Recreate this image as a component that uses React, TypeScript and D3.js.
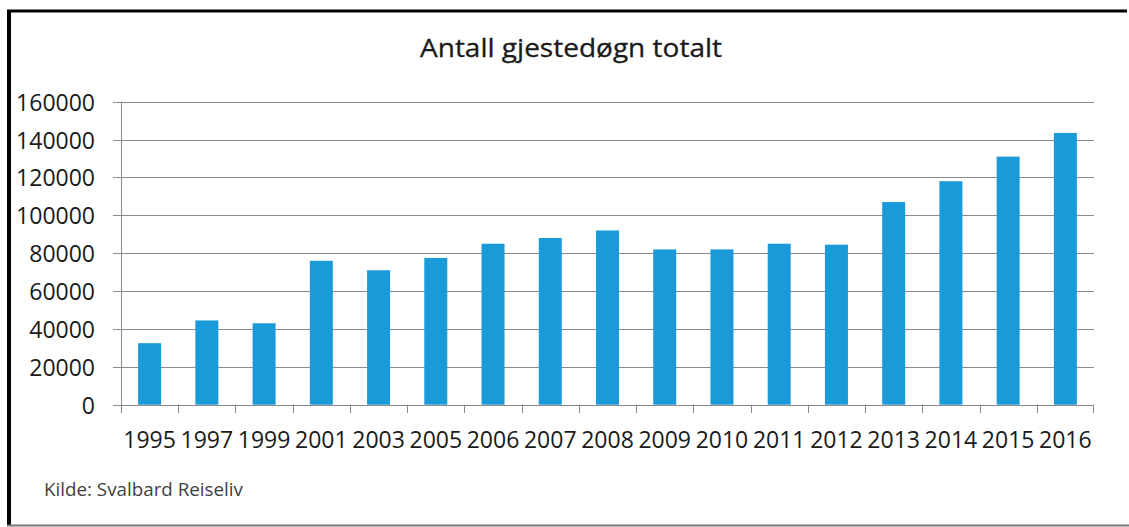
import React from "react";
import * as d3 from "d3";

const years = ["1995","1997","1999","2001","2003","2005","2006","2007","2008","2009","2010","2011","2012","2013","2014","2015","2016"];
const guestNights = [32500,44500,43000,76000,71000,77500,85000,88000,92000,82000,82000,85000,84500,107000,118000,131000,143500];
const yTicks = [0,20000,40000,60000,80000,100000,120000,140000,160000];
const title = "Antall gjestedøgn totalt";
const source = "Kilde: Svalbard Reiseliv";

export default function App() {
  const W = 1129, H = 527;
  const left = 121, right = 1094, top = 101.7, bottom = 404.7;
  const xb = d3.scaleBand<string>().domain(years).range([left, right]);
  const y = d3.scaleLinear().domain([0, 160000]).range([bottom, top]);
  const font = "'Open Sans', sans-serif";
  const grid = "#8a8a8a";
  return (
    <svg width={W} height={H} style={{ position: "absolute", left: 0, top: 0, background: "#fff" }} fontFamily={font}>
      <rect x={0} y={0} width={W} height={H} fill="#fff" />
      {/* frame */}
      <line x1={7} x2={1127} y1={11} y2={11} stroke="#000" strokeWidth={3} />
      <line x1={9} x2={9} y1={10} y2={526} stroke="#000" strokeWidth={4} />
      <line x1={7} x2={W} y1={525.5} y2={525.5} stroke="#777" strokeWidth={2} />
      <text x={571} y={57} textAnchor="middle" fontSize={25} fill="#1a1a1a" stroke="#1a1a1a" strokeWidth={0.3} textLength={302} lengthAdjust="spacingAndGlyphs">{title}</text>
      {/* gridlines & y ticks */}
      {yTicks.map(t => (
        <g key={t}>
          <line x1={113} x2={right} y1={Math.round(y(t)) + 0.5} y2={Math.round(y(t)) + 0.5} stroke={grid} strokeWidth={1} />
          <text x={95} y={y(t)} textAnchor="end" dominantBaseline="central" fontSize={23} fill="#1a1a1a">{t}</text>
        </g>
      ))}
      <line x1={left + 0.5} x2={left + 0.5} y1={top} y2={bottom} stroke={grid} strokeWidth={1} />
      {/* bars */}
      {years.map((yr, i) => {
        const bw = 23;
        const cx = (xb(yr) as number) + xb.bandwidth() / 2;
        return <rect key={yr} x={cx - bw / 2} y={y(guestNights[i])} width={bw} height={bottom - y(guestNights[i])} fill="#1a9ad8" />;
      })}
      {/* x ticks */}
      {years.map(yr => (
        <line key={"t" + yr} x1={Math.round(xb(yr) as number) + 0.5} x2={Math.round(xb(yr) as number) + 0.5} y1={bottom} y2={413} stroke={grid} />
      ))}
      <line x1={right - 0.5} x2={right - 0.5} y1={bottom} y2={413} stroke={grid} />
      <line x1={left} x2={right} y1={Math.round(bottom) + 0.5} y2={Math.round(bottom) + 0.5} stroke={grid} />
      {years.map(yr => (
        <text key={"l" + yr} x={(xb(yr) as number) + xb.bandwidth() / 2} y={448} textAnchor="middle" fontSize={23} fill="#1a1a1a">{yr}</text>
      ))}
      <text x={44} y={496} fontSize={17.5} fill="#404040" textLength={199} lengthAdjust="spacingAndGlyphs">{source}</text>
    </svg>
  );
}
